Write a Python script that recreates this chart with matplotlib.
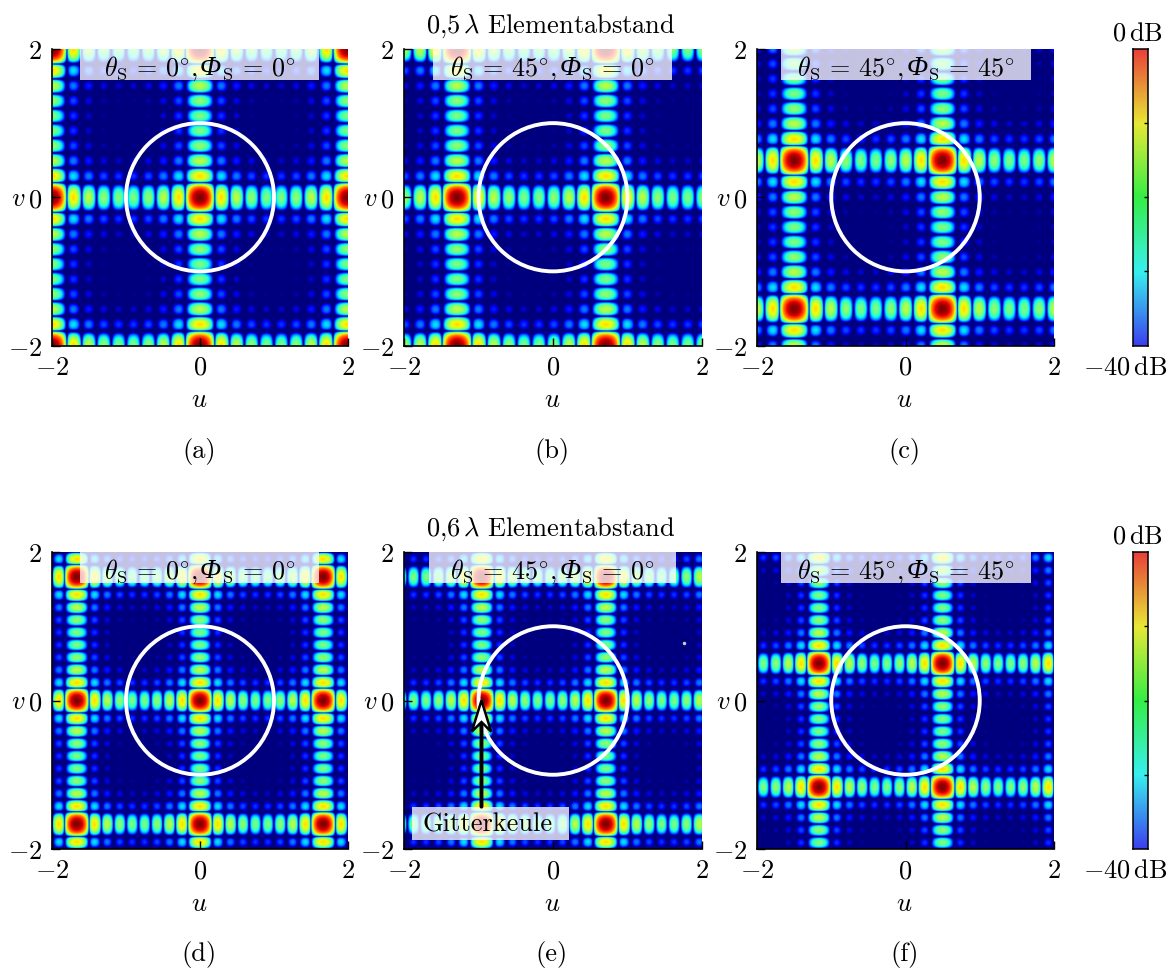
import numpy as np
import matplotlib
matplotlib.use('Agg')
import matplotlib.pyplot as plt
from matplotlib.colors import LinearSegmentedColormap
from matplotlib.patches import Circle, Polygon, Rectangle

plt.rcParams['mathtext.fontset'] = 'cm'
plt.rcParams['font.family'] = ['cmr10', 'DejaVu Serif']
plt.rcParams['axes.unicode_minus'] = False
plt.rcParams['axes.formatter.use_mathtext'] = True

W, H = 1176, 970
FS = 19

# values
panel_letters = ['(a)', '(b)', '(c)', '(d)', '(e)', '(f)']
theta_text = ['0', '45', '45', '0', '45', '45']
phi_text = ['0', '0', '45', '0', '0', '45']
row_titles = [r'$\mathrm{0{,}5}\,\lambda$ Elementabstand', r'$\mathrm{0{,}6}\,\lambda$ Elementabstand']
element_spacing = [0.5, 0.5, 0.5, 0.6, 0.6, 0.6]
peak_u = [0.0, 0.71, 0.5, 0.0, 0.71, 0.5]
peak_v = [0.0, 0.0, 0.5, 0.0, 0.0, 0.5]
n_elements = 10
db_min, db_max = -40, 0
tick_vals = [-2, 0, 2]
tick_labels = ['$-2$', '$0$', '$2$']
colorbar_colors = ['#3c3ff0', '#38f0ee', '#35ee45', '#e8e835', '#e8403a']

# pixel boxes of the panels (left, right, top, bottom)
col_px = [(52, 348), (404, 702), (757, 1054)]
row_px = [(50, 346.5), (553, 850)]
title_box_px = [(80, 319), (433, 672), (781, 1031), (80, 319), (429, 676), (781, 1031)]


def pattern_1d(x, x0, d):
    # uniform linear array, one cut
    psi = np.pi * d * (x - x0)
    num = np.sin(n_elements * psi)
    den = n_elements * np.sin(psi)
    small = np.abs(den) < 1e-9
    den[small] = 1.0
    out = num / den
    out[small] = 1.0
    return np.abs(out)


def axes_px(fig, left, right, top, bottom):
    return fig.add_axes([left / W, 1 - bottom / H, (right - left) / W, (bottom - top) / H])


def px_text(fig, x, y, s, **kw):
    return fig.text(x / W, 1 - y / H, s, fontsize=kw.pop('fontsize', FS), ha=kw.pop('ha', 'center'),
                    va=kw.pop('va', 'center'), **kw)


def scan_label(fig, cx, base, theta, phi):
    # mathtext cm has no italic capital Phi, so it is set as its own piece
    pieces = [
        (r'$\theta_{\mathrm{S}}\,=\,' + theta + r'^{\circ},$', dict(fontsize=18.8)),
        ('Φ', dict(fontsize=20, family='Liberation Serif', style='italic')),
        (r'$_{\mathrm{S}}\,=\,' + phi + r'^{\circ}$', dict(fontsize=18.8)),
    ]
    items = [px_text(fig, 0, base, s, ha='left', va='baseline', zorder=8, **kw) for s, kw in pieces]
    rend = fig.canvas.get_renderer()
    widths = [t.get_window_extent(rend).width for t in items]
    x = cx - (sum(widths) + 2) / 2
    for t, w, gap in zip(items, widths, (2.5, -0.5, 0)):
        t.set_x(x / W)
        x += w + gap


fig = plt.figure(figsize=(W / 100, H / 100), dpi=100)
grid = np.linspace(-2, 2, 900)

for i in range(6):
    row, col = i // 3, i % 3
    left, right = col_px[col]
    top, bottom = row_px[row]
    ax = axes_px(fig, left, right, top, bottom)

    fu = pattern_1d(grid, peak_u[i], element_spacing[i])
    fv = pattern_1d(grid, peak_v[i], element_spacing[i])
    field = 20 * np.log10(np.outer(fv, fu) + 1e-6)
    ax.imshow(field, extent=[-2, 2, -2, 2], origin='lower', cmap='jet',
              vmin=db_min, vmax=db_max, interpolation='bilinear', aspect='auto')

    ax.add_patch(Circle((0, 0), 1, fill=False, ec='white', lw=2.8, zorder=3))

    # label box on top of the image
    bl, br = title_box_px[i]
    to_u = lambda p: -2 + 4 * (p - left) / (right - left)
    ax.add_patch(Rectangle((to_u(bl), 2 - 31 * 4 / (bottom - top)), to_u(br) - to_u(bl), 31 * 4 / (bottom - top),
                           fc='white', ec='none', alpha=0.77, zorder=4))
    scan_label(fig, (bl + br) / 2, top + 25.5, theta_text[i], phi_text[i])

    ax.set_xlim(-2, 2)
    ax.set_ylim(-2, 2)
    ax.set_xticks(tick_vals, tick_labels)
    ax.set_yticks(tick_vals, tick_labels)
    ax.tick_params(direction='in', length=6, width=1, labelsize=FS, pad=7, top=False, right=False)
    ax.spines['top'].set_visible(False)
    ax.spines['right'].set_visible(False)
    for side in ('left', 'bottom'):
        ax.spines[side].set_linewidth(1.2)

    cx = (left + right) / 2
    px_text(fig, cx - 1, bottom + 54, '$u$')
    px_text(fig, cx - 1, bottom + 105, panel_letters[i])
    px_text(fig, left - 34, (top + bottom) / 2 + 1, '$v$')

    if i == 4:
        # Gitterkeule arrow and label
        ax.annotate('', xy=(-0.96, -0.3), xytext=(-0.96, -1.43),
                    arrowprops=dict(arrowstyle='-', color='black', lw=2.8, shrinkA=0, shrinkB=0), zorder=6)
        ax.add_patch(Polygon([(-0.96, 0.0), (-1.09, -0.42), (-0.96, -0.29), (-0.83, -0.42)],
                             closed=True, fc='white', ec='black', lw=1.8, zorder=7))
        ax.add_patch(Rectangle((-1.89, -1.88), 2.11, 0.445, fc='white', ec='none', alpha=0.77, zorder=5))
        ax.text(-0.88, -1.665, 'Gitterkeule', fontsize=FS, ha='center', va='center', zorder=6)
        ax.plot([1.76], [0.78], marker='o', ms=1.5, color='#cccccc', zorder=3)

cmap = LinearSegmentedColormap.from_list('bar', colorbar_colors)
for row in range(2):
    top, bottom = row_px[row]
    cax = axes_px(fig, 1133, 1148, top, bottom)
    cax.imshow(np.linspace(0, 1, 256)[:, None], origin='lower', extent=[0, 1, db_min, db_max],
               cmap=cmap, aspect='auto')
    cax.set_xticks([])
    cax.yaxis.tick_right()
    cax.set_yticks([-30, -20, -10])
    cax.tick_params(direction='in', length=3, width=1, labelright=False)
    for s in cax.spines.values():
        s.set_linewidth(1.1)
    px_text(fig, 1137, top - 16, r'$\mathrm{0}\,\mathrm{dB}$')
    px_text(fig, 1125, bottom + 21, r'$-\mathrm{40}\,\mathrm{dB}$')
    px_text(fig, 551, top - 24, row_titles[row])

fig.savefig('out.png', dpi=100)
